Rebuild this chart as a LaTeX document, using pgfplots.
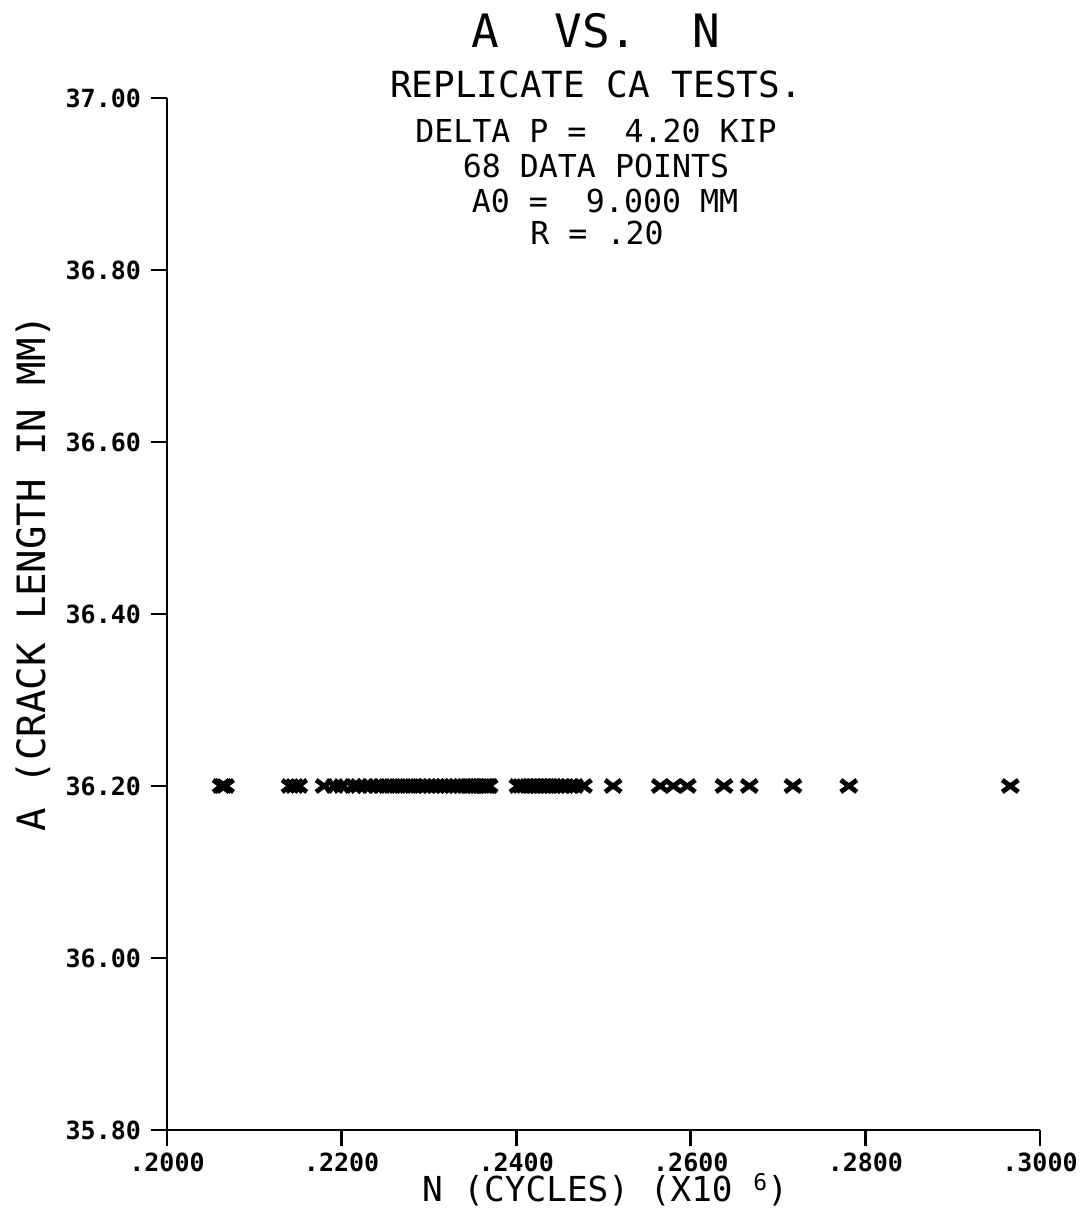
\documentclass[border=0pt]{standalone}
\usepackage{fontspec}
\usepackage{pgfplots}
\pgfplotsset{compat=1.18}
\newfontfamily\plotfont{DejaVu Sans Mono}
\begin{document}
\begin{tikzpicture}
\path[use as bounding box] (-83.5pt,-41.5pt) rectangle (461pt,565pt);
\begin{axis}[
  at={(0pt,0pt)}, anchor=south west,
  scale only axis,
  width=436.5pt, height=516pt,
  xmin=0.2, xmax=0.3, ymin=35.8, ymax=37.0,
  axis x line=bottom, axis y line=left,
  axis line style={-, line width=1.4pt},
  tick style={line width=1.4pt, black},
  tick align=outside,
  major tick length=8pt,
  xtick={0.2,0.22,0.24,0.26,0.28,0.3},
  xticklabels={.2000,.2200,.2400,.2600,.2800,.3000},
  ytick={35.8,36.0,36.2,36.4,36.6,36.8,37.0},
  yticklabels={35.80,36.00,36.20,36.40,36.60,36.80,37.00},
  ticklabel style={font=\plotfont\bfseries\fontsize{12.5}{12.5}\selectfont},
  yticklabel style={xshift=-1.5pt},
  clip=false,
]
\addplot[only marks, mark=x, black,
  mark options={xscale=1.35, mark size=4.2pt, line width=2.4pt}] coordinates {
(0.2062,36.2) (0.2064,36.2) (0.2067,36.2)
(0.2141,36.2) (0.2146,36.2) (0.2151,36.2)
(0.2180,36.2) (0.2192,36.2) (0.2201,36.2) (0.2213,36.2) (0.2220,36.2)
(0.2227,36.2) (0.2233,36.2) (0.2240,36.2) (0.2246,36.2) (0.2252,36.2)
(0.2258,36.2) (0.2264,36.2) (0.2270,36.2) (0.2276,36.2) (0.2282,36.2)
(0.2288,36.2) (0.2293,36.2) (0.2298,36.2) (0.2303,36.2) (0.2308,36.2)
(0.2313,36.2) (0.2318,36.2) (0.2323,36.2) (0.2328,36.2) (0.2333,36.2)
(0.2338,36.2) (0.2342,36.2) (0.2346,36.2) (0.2350,36.2) (0.2354,36.2)
(0.2357,36.2) (0.2360,36.2) (0.2363,36.2) (0.2365,36.2) (0.2367,36.2)
(0.2369,36.2)
(0.2402,36.2) (0.2406,36.2) (0.2410,36.2) (0.2414,36.2) (0.2418,36.2)
(0.2422,36.2) (0.2426,36.2) (0.2430,36.2) (0.2434,36.2) (0.2438,36.2)
(0.2442,36.2) (0.2446,36.2) (0.2451,36.2) (0.2456,36.2) (0.2461,36.2)
(0.2467,36.2) (0.2477,36.2)
(0.2511,36.2) (0.2565,36.2) (0.2580,36.2) (0.2596,36.2) (0.2638,36.2)
(0.2667,36.2) (0.2717,36.2) (0.2781,36.2) (0.2966,36.2)
};
\end{axis}
\node[font=\plotfont\fontsize{23}{23}\selectfont] at (214.5pt,549.5pt) {A\ \ VS.\ \ N};
\node[font=\plotfont\fontsize{18}{18}\selectfont] at (214.5pt,523pt) {REPLICATE CA TESTS.};
\node[font=\plotfont\fontsize{15.8}{15.8}\selectfont] at (214.5pt,499.5pt) {DELTA P =\ \ 4.20 KIP};
\node[font=\plotfont\fontsize{15.8}{15.8}\selectfont] at (214.5pt,482pt) {68 DATA POINTS};
\node[font=\plotfont\fontsize{15.8}{15.8}\selectfont] at (219pt,464.5pt) {A0 =\ \ 9.000 MM};
\node[font=\plotfont\fontsize{15.8}{15.8}\selectfont] at (215pt,448.5pt) {R = .20};
\node[font=\plotfont\fontsize{17.2}{17.2}\selectfont] at (219pt,-30pt) {N (CYCLES) (X10\ \raisebox{0.6ex}{\fontsize{11.5}{11.5}\selectfont 6})};
\node[font=\plotfont\fontsize{19.5}{19.5}\selectfont, rotate=90] at (-67pt,278.5pt) {A (CRACK LENGTH IN MM)};
\end{tikzpicture}
\end{document}
